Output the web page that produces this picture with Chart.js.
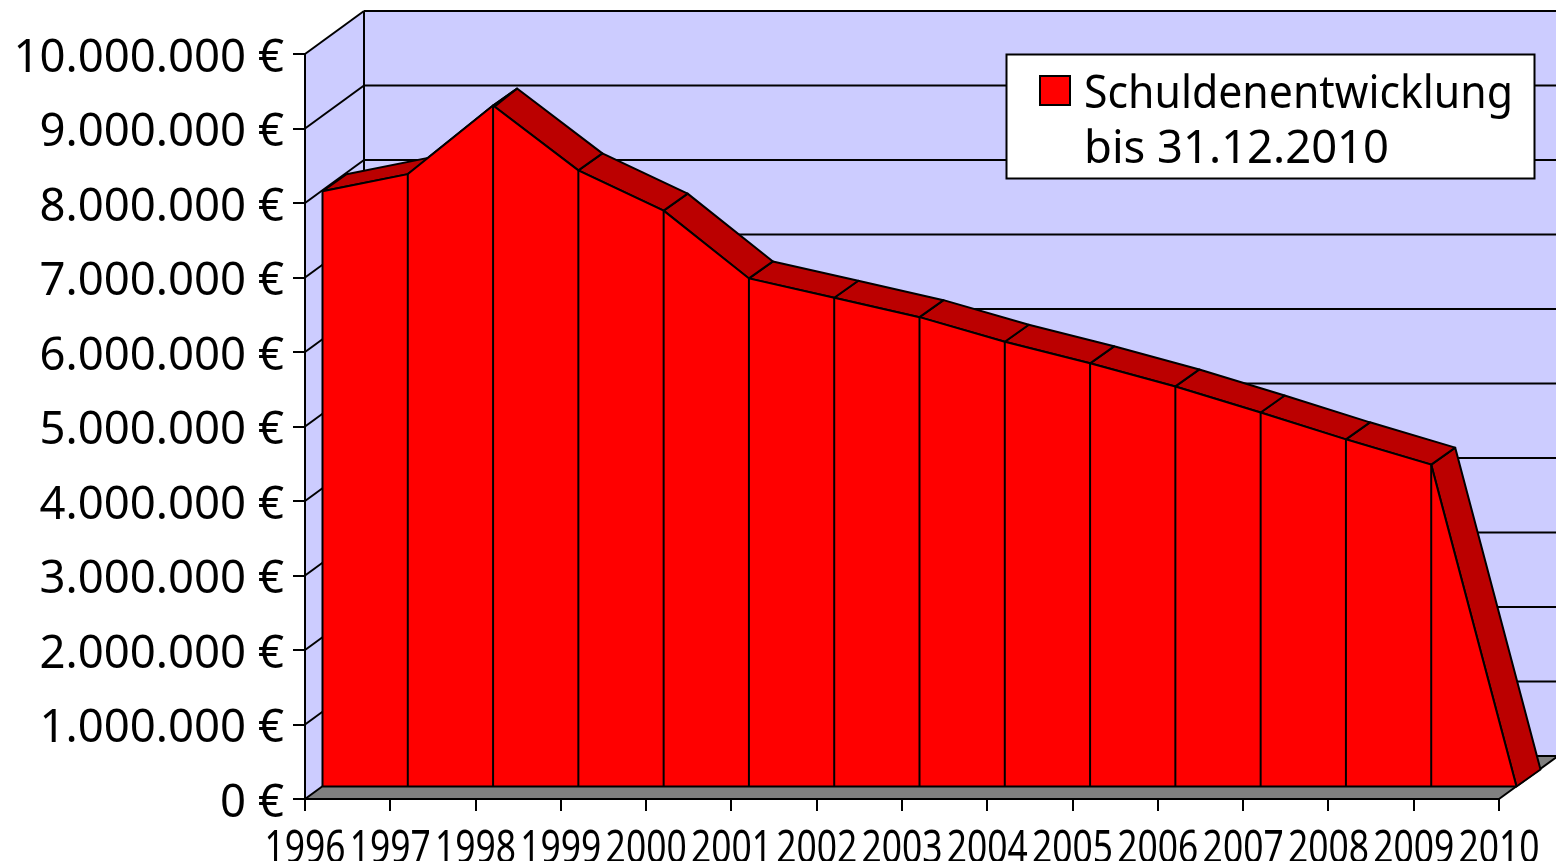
<!DOCTYPE html>
<html lang="de">
<head>
<meta charset="utf-8">
<title>Schuldenentwicklung</title>
<style>
html,body{margin:0;padding:0;background:#fff;overflow:hidden}
canvas{display:block}
</style>
<script src="https://cdn.jsdelivr.net/npm/chart.js@4/dist/chart.umd.min.js"></script>
</head>
<body>
<canvas id="c" width="1556" height="861"></canvas>
<script>
const years = ['1996','1997','1998','1999','2000','2001','2002','2003','2004','2005','2006','2007','2008','2009','2010'];
const debt = [7990000,8220000,9140000,8270000,7730000,6820000,6560000,6300000,5970000,5680000,5370000,5020000,4660000,4320000,0];
const legendLines = ['Schuldenentwicklung','bis 31.12.2010'];
const yMax = 10000000;
const yStep = 1000000;

const WALL = '#ccccff', FLOOR = '#808080', RED = '#ff0000', DARK = '#bb0000', INK = '#000';
const WALL_D = {x:59, y:-43};
const FRONT_D = {x:17.5, y:-12.5};
const BACK_D = {x:41.5, y:-29.5};
const LW = 2;
const tickFont = '"Noto Sans", sans-serif';
const X_SQUEEZE = 0.77;
const Y_LABEL_SHIFT = 5;

function poly(ctx, pts, fill, stroke){
  ctx.beginPath();
  pts.forEach((p,i)=> i ? ctx.lineTo(p[0],p[1]) : ctx.moveTo(p[0],p[1]));
  ctx.closePath();
  if(fill){ctx.fillStyle=fill;ctx.fill();}
  if(stroke){ctx.strokeStyle=INK;ctx.lineWidth=LW;ctx.lineJoin='round';ctx.stroke();}
}
function seg(ctx,a,b,c,d){ctx.beginPath();ctx.moveTo(a,b);ctx.lineTo(c,d);ctx.stroke();}

const scene = {
  id:'scene',
  beforeDraw(chart){
    const {ctx,chartArea:a,scales:{y}} = chart;
    ctx.save();
    poly(ctx,[[a.left,a.top],[a.left+WALL_D.x,a.top+WALL_D.y],[a.left+WALL_D.x,a.bottom+WALL_D.y],[a.left,a.bottom]],WALL);
    ctx.fillStyle=WALL;
    ctx.fillRect(a.left+WALL_D.x,a.top+WALL_D.y,a.right-a.left,a.bottom-a.top);
    poly(ctx,[[a.left,a.bottom],[a.left+WALL_D.x,a.bottom+WALL_D.y],[a.right+WALL_D.x,a.bottom+WALL_D.y],[a.right,a.bottom]],FLOOR);
    ctx.strokeStyle=INK;ctx.lineWidth=LW;
    y.ticks.forEach(t=>{
      const py=y.getPixelForValue(t.value);
      seg(ctx,a.left,py,a.left+WALL_D.x,py+WALL_D.y);
      seg(ctx,a.left+WALL_D.x,py+WALL_D.y,a.right+WALL_D.x,py+WALL_D.y);
    });
    seg(ctx,a.left+WALL_D.x,a.top+WALL_D.y,a.left+WALL_D.x,a.bottom+WALL_D.y);
    seg(ctx,a.right,a.bottom,a.right+WALL_D.x,a.bottom+WALL_D.y);
    ctx.restore();
  },
  beforeDatasetsDraw(chart){
    const {ctx,scales:{x,y}} = chart;
    ctx.save();
    for(let i=debt.length-2;i>=0;i--){
      const x0=x.getPixelForValue(i),y0=y.getPixelForValue(debt[i]);
      const x1=x.getPixelForValue(i+1),y1=y.getPixelForValue(debt[i+1]);
      poly(ctx,[
        [x0+FRONT_D.x,y0+FRONT_D.y],[x1+FRONT_D.x,y1+FRONT_D.y],
        [x1+BACK_D.x,y1+BACK_D.y],[x0+BACK_D.x,y0+BACK_D.y]
      ],DARK,true);
    }
    ctx.restore();
    ctx.save();
    ctx.translate(FRONT_D.x,FRONT_D.y);
  },
  afterDatasetsDraw(chart){
    const {ctx,scales:{x,y}} = chart;
    ctx.strokeStyle=INK;ctx.lineWidth=LW;
    const base=y.getPixelForValue(0);
    debt.forEach((v,i)=>{
      if(v>0){const px=x.getPixelForValue(i);seg(ctx,px,base,px,y.getPixelForValue(v));}
    });
    seg(ctx,x.getPixelForValue(0),base,x.getPixelForValue(debt.length-1),base);
    ctx.restore();
    drawLegend(ctx);
  }
};

function drawLegend(ctx){
  ctx.save();
  ctx.fillStyle='#fff';ctx.strokeStyle=INK;ctx.lineWidth=LW;
  ctx.fillRect(1006.5,54.5,528,124);ctx.strokeRect(1006.5,54.5,528,124);
  ctx.fillStyle=RED;ctx.fillRect(1040,76,30,29);ctx.strokeRect(1040,76,30,29);
  ctx.fillStyle=INK;ctx.font='46px '+tickFont;ctx.textAlign='left';ctx.textBaseline='alphabetic';
  ctx.fillText(legendLines[0],1084,108,429);
  ctx.fillText(legendLines[1],1084,163,305);
  ctx.restore();
}

function squeezeLabels(s){
  if(s._squeezed) return;
  s._squeezed=true;
  const draw=s.drawLabels, items=s.getLabelItems;
  s._computeLabelArea=function(){return undefined;};
  s.drawLabels=function(area){
    const c=s.ctx;
    c.save();
    c.scale(X_SQUEEZE,1);
    s.getLabelItems=function(a){
      return items.call(s,a).map(it=>({...it,options:{...it.options,
        translation:[it.options.translation[0]/X_SQUEEZE,it.options.translation[1]]}}));
    };
    draw.call(s,area);
    s.getLabelItems=items;
    c.restore();
  };
}
function shiftLabels(s){
  if(s._shifted) return;
  s._shifted=true;
  const draw=s.drawLabels;
  s.drawLabels=function(area){
    s.ctx.save();
    s.ctx.translate(0,Y_LABEL_SHIFT);
    draw.call(s,area);
    s.ctx.restore();
  };
}

new Chart(document.getElementById('c'),{
  type:'line',
  data:{labels:years,datasets:[{
    label:legendLines.join(' '),
    data:debt,
    fill:'origin',
    backgroundColor:RED,
    borderColor:INK,
    borderWidth:LW,
    pointRadius:0,
    tension:0,
    clip:false
  }]},
  options:{
    responsive:false,
    animation:false,
    layout:{padding:{top:54,right:57,left:0,bottom:0}},
    plugins:{legend:{display:false},tooltip:{enabled:false}},
    scales:{
      x:{
        type:'category',
        offset:false,
        afterFit(s){s.height=62;s.paddingLeft=0;s.paddingRight=0;},
        afterUpdate:squeezeLabels,
        grid:{drawOnChartArea:false,drawTicks:true,tickLength:12,color:INK,lineWidth:LW},
        border:{display:true,color:INK,width:LW},
        ticks:{autoSkip:false,maxRotation:0,minRotation:0,padding:11,color:INK,
          font:{family:tickFont,size:46}}
      },
      y:{
        min:0,max:yMax,
        afterFit(s){s.width=305;s.paddingTop=0;s.paddingBottom=0;},
        afterUpdate:shiftLabels,
        grid:{drawOnChartArea:false,drawTicks:true,tickLength:12,color:INK,lineWidth:LW},
        border:{display:true,color:INK,width:LW},
        ticks:{stepSize:yStep,padding:9,color:INK,
          font:{family:tickFont,size:45.5},
          callback:v=>String(v).replace(/\B(?=(\d{3})+$)/g,'.')+' €'}
      }
    }
  },
  plugins:[scene]
});
</script>
</body>
</html>
